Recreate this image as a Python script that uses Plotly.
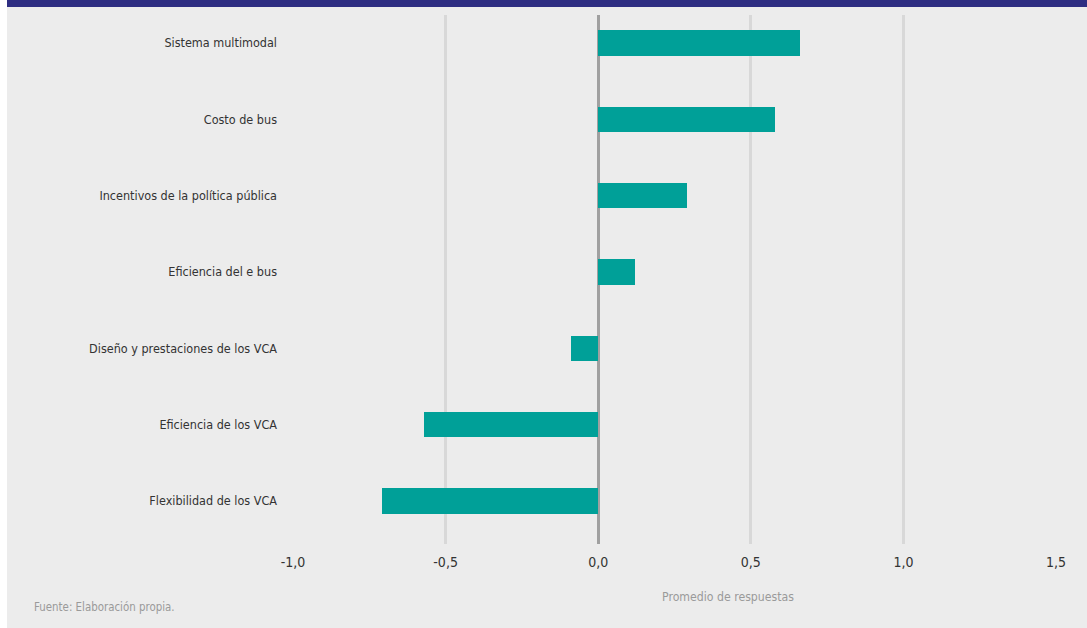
import plotly.graph_objects as go

# Survey factors and their average response score
factores = [
    "Sistema multimodal",
    "Costo de bus",
    "Incentivos de la política pública",
    "Eficiencia del e bus",
    "Diseño y prestaciones de los VCA",
    "Eficiencia de los VCA",
    "Flexibilidad de los VCA",
]
promedio = [0.66, 0.58, 0.29, 0.12, -0.09, -0.57, -0.71]

x_ticks = [-1.0, -0.5, 0.0, 0.5, 1.0, 1.5]
x_tick_labels = ["-1,0", "-0,5", "0,0", "0,5", "1,0", "1,5"]

W, H = 1087, 628
ML, MR, MT, MB = 293, 31, 15, 84
PW, PH = W - ML - MR, H - MT - MB

FONT = "Liberation Sans Narrow, DejaVu Sans Condensed, Roboto, sans-serif"
TEAL = "#00A098"
BG = "#ECECEC"
NAVY = "#2E2D82"


def px_x(p):
    return (p - ML) / PW


def px_y(p):
    return 1 - (p - MT) / PH


pos = list(range(len(factores)))

fig = go.Figure(
    go.Bar(
        x=promedio,
        y=pos,
        orientation="h",
        width=0.33,
        marker=dict(color=TEAL, line=dict(width=0)),
        hoverinfo="skip",
    )
)

fig.update_layout(
    width=W,
    height=H,
    margin=dict(l=ML, r=MR, t=MT, b=MB),
    paper_bgcolor="white",
    plot_bgcolor=BG,
    showlegend=False,
    font=dict(family=FONT, size=13, color="#333333"),
    bargap=0,
    xaxis=dict(
        range=[-1.0, 1.5],
        tickvals=x_ticks,
        ticktext=x_tick_labels,
        showgrid=True,
        gridcolor="#D8D8D8",
        gridwidth=3,
        zeroline=True,
        zerolinecolor="#A0A0A0",
        zerolinewidth=3,
        showline=False,
        ticks="",
        ticklabelstandoff=8,
        tickfont=dict(family=FONT, size=14, color="#333333"),
        fixedrange=True,
    ),
    yaxis=dict(
        range=[6.563, -0.367],
        tickvals=pos,
        ticktext=factores,
        showgrid=False,
        zeroline=False,
        showline=False,
        ticks="",
        ticklabelstandoff=15,
        tickfont=dict(family=FONT, size=12.5, color="#333333"),
        fixedrange=True,
    ),
    shapes=[
        # grey panel behind the whole chart
        dict(type="rect", xref="paper", yref="paper",
             x0=px_x(7), x1=px_x(W), y0=px_y(H), y1=px_y(7),
             fillcolor=BG, line=dict(width=0), layer="below"),
        # navy band along the top
        dict(type="rect", xref="paper", yref="paper",
             x0=px_x(7), x1=px_x(W), y0=px_y(7), y1=px_y(0),
             fillcolor=NAVY, line=dict(width=0), layer="below"),
    ],
    annotations=[
        dict(text="Promedio de respuestas", xref="paper", yref="paper",
             x=px_x(728), y=px_y(597), xanchor="center", yanchor="middle",
             showarrow=False, font=dict(family=FONT, size=12.2, color="#9A9A9A")),
        dict(text="Fuente: Elaboración propia.", xref="paper", yref="paper",
             x=px_x(32), y=px_y(607), xanchor="left", yanchor="middle",
             showarrow=False, font=dict(family=FONT, size=11.4, color="#9A9A9A")),
    ],
)

fig.write_html("out.html", config={"displayModeBar": False})
